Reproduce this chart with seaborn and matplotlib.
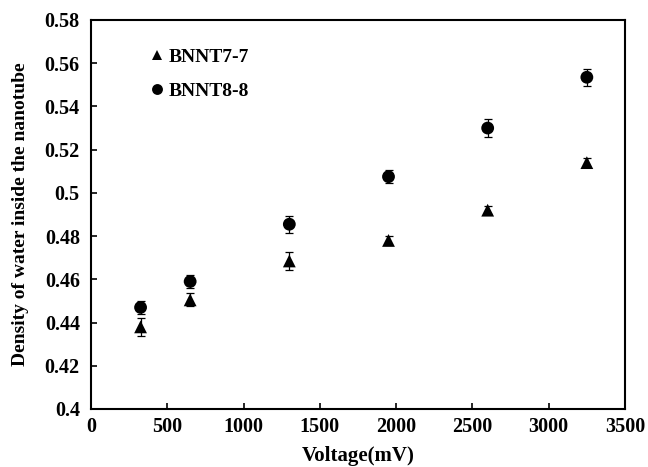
import matplotlib
matplotlib.use("Agg")
import matplotlib.pyplot as plt
import seaborn as sns
import pandas as pd
import numpy as np

voltage = [325, 650, 1300, 1950, 2600, 3250]
bnnt77 = [0.438, 0.4505, 0.4685, 0.478, 0.492, 0.514]
bnnt77_err = [0.004, 0.003, 0.004, 0.002, 0.002, 0.002]
bnnt88 = [0.447, 0.459, 0.4855, 0.5075, 0.530, 0.5535]
bnnt88_err = [0.003, 0.003, 0.004, 0.003, 0.004, 0.004]
series = ["BNNT7-7", "BNNT8-8"]

sns.set_theme(style="ticks")
plt.rcParams['font.family'] = ['Liberation Serif', 'DejaVu Serif']
plt.rcParams['font.weight'] = 'bold'
plt.rcParams['text.color'] = 'black'
plt.rcParams['axes.labelcolor'] = 'black'
plt.rcParams['xtick.color'] = 'black'
plt.rcParams['ytick.color'] = 'black'

df = pd.DataFrame({
    "Voltage": voltage * 2,
    "Density": bnnt77 + bnnt88,
    "err": bnnt77_err + bnnt88_err,
    "Series": [series[0]] * len(voltage) + [series[1]] * len(voltage),
})

fig = plt.figure(figsize=(6.48, 4.67), dpi=100)
ax = fig.add_axes([0.1404, 0.1242, 0.8241, 0.8330])

for name in series:
    sub = df[df["Series"] == name]
    ax.errorbar(sub["Voltage"], sub["Density"], yerr=sub["err"], fmt="none",
                ecolor="black", elinewidth=0.9, capsize=3, capthick=0.9, zorder=2)

sns.scatterplot(data=df, x="Voltage", y="Density", style="Series",
                markers={"BNNT7-7": "^", "BNNT8-8": "o"}, color="black",
                s=85, edgecolor="black", linewidth=0, ax=ax, zorder=3)

ax.set_xlim(0, 3500)
ax.set_ylim(0.4, 0.58)
ax.set_xticks(np.arange(0, 3501, 500))
ax.set_yticks(np.round(np.arange(0.40, 0.5801, 0.02), 2))
ax.set_yticklabels(["0.4", "0.42", "0.44", "0.46", "0.48", "0.5", "0.52", "0.54", "0.56", "0.58"])
ax.tick_params(direction="in", length=4, width=1.2, labelsize=14.5, colors="black")
ax.tick_params(axis="y", pad=8)
ax.tick_params(axis="x", pad=6)
for lab in ax.get_xticklabels() + ax.get_yticklabels():
    lab.set_fontweight("bold")
for sp in ax.spines.values():
    sp.set_linewidth(1.5)
    sp.set_color("black")

ax.set_xlabel("Voltage(mV)", fontsize=15, fontweight="bold", labelpad=6.5)
ax.set_ylabel("Density of water inside the nanotube", fontsize=14, fontweight="bold", labelpad=11)

leg = ax.legend(loc="upper left", bbox_to_anchor=(0.072, 0.973), frameon=False,
                handlelength=1.0, handletextpad=0.1, labelspacing=0.85, markerscale=0.85,
                prop={"weight": "bold", "size": 14})
for t in leg.get_texts():
    t.set_color("black")

fig.savefig("out.png", dpi=100)
